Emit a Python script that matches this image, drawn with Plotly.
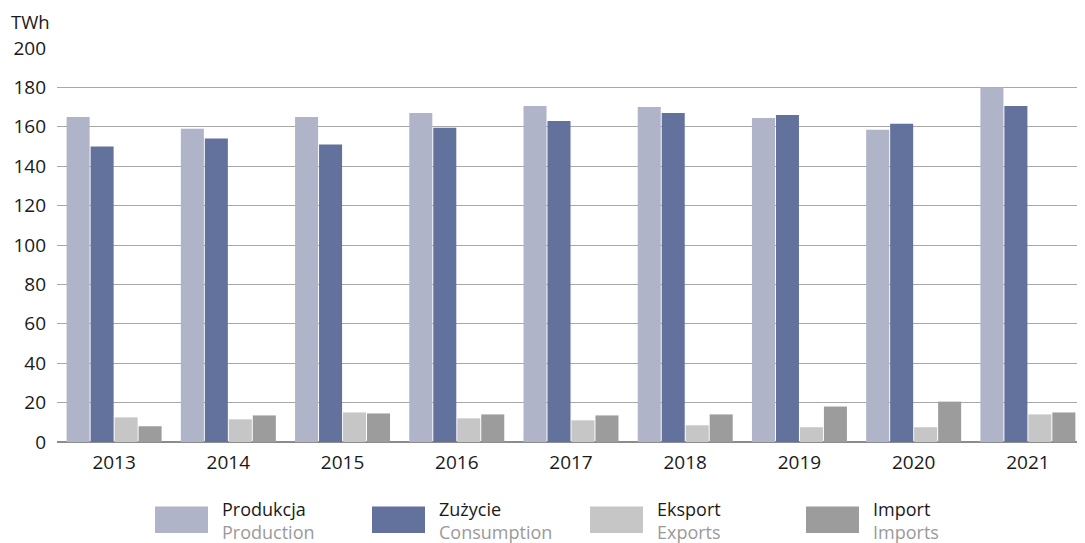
import plotly.graph_objects as go

years = ["2013", "2014", "2015", "2016", "2017", "2018", "2019", "2020", "2021"]
production = [165, 159, 165, 167, 170.5, 170, 164.5, 158.5, 180]
consumption = [150, 154, 151, 159.5, 163, 167, 166, 161.5, 170.5]
exports = [12.5, 11.5, 15, 12, 11, 8.5, 7.5, 7.5, 14]
imports = [8, 13.5, 14.5, 14, 13.5, 14, 18, 20.5, 15]

series = [
    ("Produkcja", "Production", production, "#afb4c8"),
    ("Zużycie", "Consumption", consumption, "#63719d"),
    ("Eksport", "Exports", exports, "#c6c6c6"),
    ("Import", "Imports", imports, "#9c9c9c"),
]

OFF = 8  # page body margin offset
PAGE_W, PAGE_H = 1085, 543
W, H = PAGE_W - OFF, PAGE_H - OFF
# plot area in page coordinates
PL, PR, PT, PB = 57, 1085, 47.6, 441.6
ML, MR, MT, MB = PL - OFF, PAGE_W - PR, PT - OFF, PAGE_H - PB
FONT = "Open Sans"

fig = go.Figure()
for pl, en, vals, col in series:
    fig.add_trace(go.Bar(x=years, y=vals, name=pl, marker=dict(color=col, line=dict(width=0)),
                         showlegend=False))

pw = PR - PL
ph = PB - PT

def px2paper(x, y):
    return (x - PL) / pw, (PB - y) / ph

shapes = []
annotations = []
legend_x = [155, 372, 590, 806]
for (pl, en, vals, col), lx in zip(series, legend_x):
    x0, y0 = px2paper(lx, 532.5)
    x1, y1 = px2paper(lx + 53, 506)
    shapes.append(dict(type="rect", xref="paper", yref="paper", x0=x0, y0=y0, x1=x1, y1=y1,
                       fillcolor=col, line=dict(width=0)))
    tx, ty = px2paper(lx + 66, 520)
    annotations.append(dict(xref="paper", yref="paper", x=tx, y=ty, xanchor="left", yanchor="middle",
                            showarrow=False, align="left", borderpad=0,
                            text=f"{pl}<br><span style='color:#9a9a9a'>{en}</span>",
                            font=dict(family=FONT, size=18, color="#1a1a1a")))

tx, ty = px2paper(10, 8)
annotations.append(dict(xref="paper", yref="paper", x=tx, y=ty, xanchor="left", yanchor="top",
                        showarrow=False, text="TWh", borderpad=0,
                        font=dict(family=FONT, size=18.5, color="#1a1a1a")))

fig.update_layout(
    width=W, height=H,
    margin=dict(l=ML, r=MR, t=MT, b=MB),
    paper_bgcolor="white", plot_bgcolor="white",
    barmode="group", bargap=0.16, bargroupgap=0.04,
    font=dict(family=FONT, size=19, color="#1a1a1a"),
    shapes=shapes, annotations=annotations,
    xaxis=dict(showgrid=False, ticks="", showline=False, zeroline=False, ticklabelstandoff=7,
               tickfont=dict(family=FONT, size=19, color="#1a1a1a")),
    yaxis=dict(range=[0, 200], dtick=20, showgrid=True, gridcolor="#a8a8a8", gridwidth=1.2,
               zeroline=True, zerolinecolor="#8c8c8c", zerolinewidth=2, ticks="",
               showline=False, ticklabelstandoff=10,
               tickfont=dict(family=FONT, size=19, color="#1a1a1a")),
)

fig.write_html("out.html")
